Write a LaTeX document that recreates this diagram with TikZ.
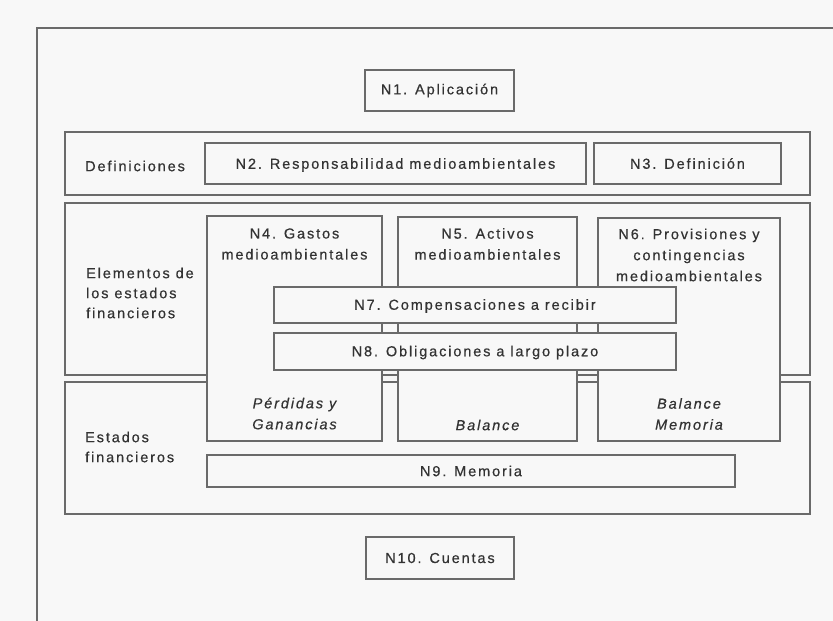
\documentclass[tikz,border=0pt]{standalone}
\usepackage{fontspec}
\setmainfont{Liberation Sans}[LetterSpace=13, FakeBold=0.5]
\definecolor{linegray}{HTML}{6A6A6A}
\definecolor{txtgray}{HTML}{333333}
\definecolor{bg}{HTML}{F8F8F8}
\tikzset{
  framebox/.style={draw=linegray, line width=1.7pt, inner sep=0pt},
  nbox/.style={draw=linegray, line width=1.7pt, fill=bg, inner sep=0pt},
  txt/.style={text=txtgray, font=\fontsize{14.5}{21}\selectfont, align=center, inner sep=0pt},
  ltxt/.style={text=txtgray, font=\fontsize{14.5}{20}\selectfont, align=left, inner sep=0pt, anchor=west},
  itxt/.style={text=txtgray, font=\fontsize{14.5}{21}\selectfont\itshape, align=center, inner sep=0pt},
}
\begin{document}
\begin{tikzpicture}[x=1pt,y=-1pt]
\useasboundingbox (0,0) rectangle (833,621);
\fill[bg] (0,0) rectangle (833,621);
\clip (0,0) rectangle (833,621);
% outer frame (cut by the page)
\draw[draw=linegray, line width=1.7pt] (37,640) -- (37,28) -- (850,28);
% frames
\node[framebox, minimum width=745pt, minimum height=63pt] (def) at (437.5,163.5) {};
\node[framebox, minimum width=745pt, minimum height=172pt] (elem) at (437.5,289) {};
\node[framebox, minimum width=745pt, minimum height=132pt] (est) at (437.5,448) {};
% frame labels
\node[ltxt] (tdef) at (85,166) {Definiciones};
\node[ltxt] (telem) at (86,293) {Elementos de\\los estados\\financieros};
\node[ltxt] (test) at (85,447) {Estados\\financieros};
% single boxes
\node[nbox, minimum width=149pt, minimum height=41pt] (n1) at (439.5,90.5) {};
\node[txt] at (n1) {N1. Aplicación};
\node[nbox, minimum width=381pt, minimum height=41pt] (n2) at (395.5,163.5) {};
\node[txt, yshift=-1.5pt] at (n2) {N2. Responsabilidad medioambientales};
\node[nbox, minimum width=187pt, minimum height=41pt] (n3) at (687.5,163.5) {};
\node[txt] at (n3) {N3. Definición};
\node[nbox, minimum width=528pt, minimum height=32pt] (n9) at (471,471) {};
\node[txt] at (n9) {N9. Memoria};
\node[nbox, minimum width=148pt, minimum height=42pt] (n10) at (440,558) {};
\node[txt] at (n10) {N10. Cuentas};
% tall boxes
\node[nbox, minimum width=175pt, minimum height=225pt] (n4) at (294.5,328.5) {};
\node[txt] (n4t) at (294.5,244) {N4. Gastos\\medioambientales};
\node[itxt] (n4b) at (294.5,413.5) {Pérdidas y\\Ganancias};
\node[nbox, minimum width=179pt, minimum height=224pt] (n5) at (487.5,329) {};
\node[txt] (n5t) at (487.5,244) {N5. Activos\\medioambientales};
\node[itxt] (n5b) at (487.5,425) {Balance};
\node[nbox, minimum width=182pt, minimum height=223pt] (n6) at (689,329.5) {};
\node[txt] (n6t) at (689,255) {N6. Provisiones y\\contingencias\\medioambientales};
\node[itxt] (n6b) at (689,414) {Balance\\Memoria};
% crossing boxes
\node[nbox, minimum width=402pt, minimum height=36pt] (n7) at (475,305) {};
\node[txt, yshift=-1pt] at (n7) {N7. Compensaciones a recibir};
\node[nbox, minimum width=402pt, minimum height=37pt] (n8) at (475,351.5) {};
\node[txt, yshift=-1pt] at (n8) {N8. Obligaciones a largo plazo};
\end{tikzpicture}
\end{document}
